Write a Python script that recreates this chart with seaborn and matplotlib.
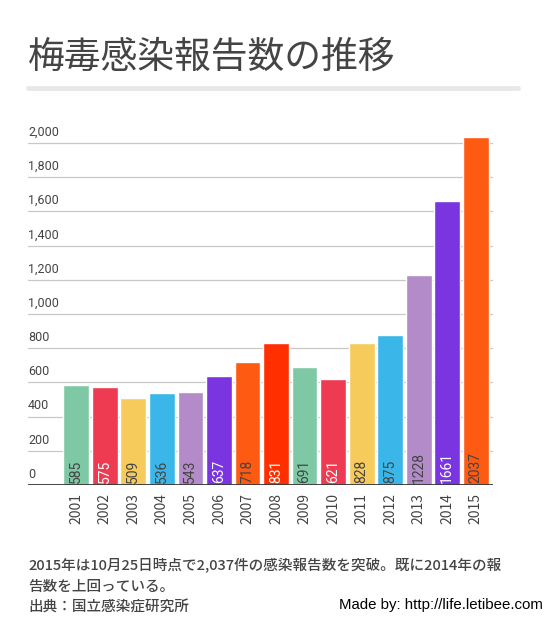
import matplotlib.pyplot as plt
import pandas as pd
import seaborn as sns

# Data
years = [str(y) for y in range(2001, 2016)]
reports = [585, 575, 509, 536, 543, 637, 718, 831, 691, 621, 828, 875, 1228, 1661, 2037]
bar_colors = ['#7fc8a6', '#ef3b52', '#f7cb5b', '#3bb6e8', '#b38bc8', '#7b35e0', '#ff5a12',
              '#ff2f00', '#7fc8a6', '#ef3b52', '#f7cb5b', '#3bb6e8', '#b38bc8', '#7b35e0', '#ff5a12']
label_colors = ['#444444', 'white', '#444444', '#444444', '#444444', 'white', '#444444',
                'white', '#444444', 'white', '#444444', '#444444', '#444444', 'white', '#444444']
yticks = [0, 200, 400, 600, 800, 1000, 1200, 1400, 1600, 1800, 2000]

df = pd.DataFrame({'year': years, 'reports': reports})

sns.set_style('white')
plt.rcParams['font.family'] = ['Noto Sans CJK JP', 'DejaVu Sans']

fig = plt.figure(figsize=(5.49, 6.18), dpi=100)
W, H = 549, 618
ax = fig.add_axes([28 / W, 1 - 485 / H, (493 - 28) / W, (485 - 125) / H])

# Gridlines and tick labels drawn as text above each line
for t in yticks[1:]:
    ax.axhline(t, color='#c8c8c8', lw=0.9, zorder=0)
for t in yticks:
    ax.text(0, t + 25, f'{t:,}', transform=ax.get_yaxis_transform(), ha='left', va='bottom',
            fontsize=9, color='#444444', family=['Roboto', 'DejaVu Sans'])

sns.barplot(data=df, x='year', y='reports', hue='year', palette=bar_colors, legend=False,
            width=0.9, saturation=1, ax=ax, zorder=2)

for i, (v, c) in enumerate(zip(reports, label_colors)):
    ax.text(i, 12, str(v), rotation=90, ha='center', va='bottom', fontsize=10, color=c,
            family=['Roboto', 'DejaVu Sans'], zorder=3)

ax.axhline(0, color='#333333', lw=2, zorder=4)
ax.set_xlim(-1.69, 14.6)
ax.set_ylim(0, 2105)
ax.set_yticks([])
ax.set_xlabel('')
ax.set_ylabel('')
ax.tick_params(axis='x', length=0, pad=6, labelrotation=90, labelsize=10, labelcolor='#444444')
for spine in ax.spines.values():
    spine.set_visible(False)

# Title and decorations
fig.text(28 / W, 1 - 57 / H, '梅毒感染報告数の推移', fontsize=26.5, color='#444444', va='center')
fig.add_artist(plt.Line2D([28 / W, 518 / W], [1 - 88 / H, 1 - 88 / H], color='#e8e8e8', lw=3.5))

foot = dict(fontsize=10.5, color='#444444', va='center', fontweight='medium')
fig.text(28 / W, 1 - 565 / H, '2015年は10月25日時点で2,037件の感染報告数を突破。既に2014年の報', **foot)
fig.text(28 / W, 1 - 587 / H, '告数を上回っている。', **foot)
fig.text(28 / W, 1 - 608 / H, '出典：国立感染症研究所', **foot)
fig.text(543 / W, 1 - 605 / H, 'Made by: http://life.letibee.com', fontsize=10.8, color='black',
         ha='right', va='center', family=['Liberation Sans', 'DejaVu Sans'])

fig.savefig('out.png', dpi=100)
